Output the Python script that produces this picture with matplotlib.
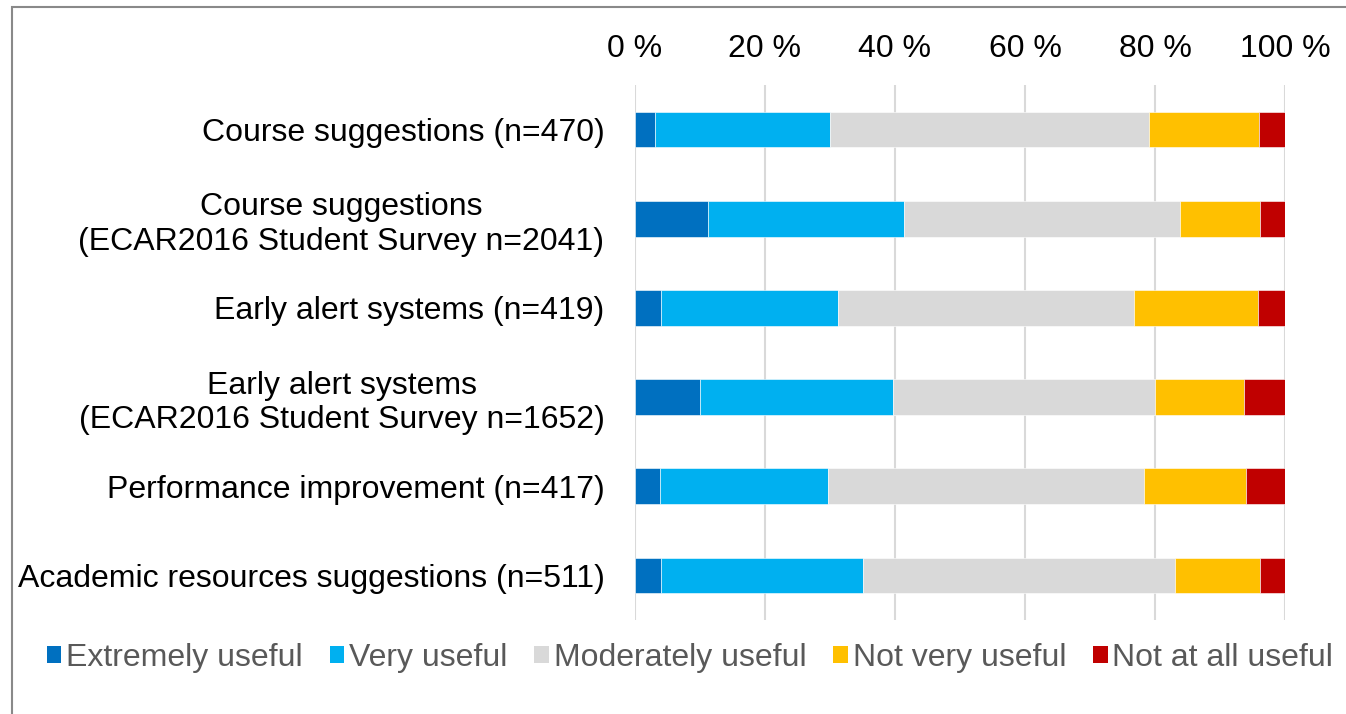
import matplotlib
matplotlib.use("Agg")
import matplotlib.pyplot as plt
from matplotlib.patches import Patch, Rectangle
import numpy as np

plt.rcParams['font.family'] = ['Liberation Sans', 'DejaVu Sans']

# categories, top to bottom
categories = [
    "Course suggestions (n=470)",
    "Course suggestions\n(ECAR2016 Student Survey n=2041)",
    "Early alert systems (n=419)",
    "Early alert systems\n(ECAR2016 Student Survey n=1652)",
    "Performance improvement (n=417)",
    "Academic resources suggestions (n=511)",
]

# percentages per answer
extremely = [3.0, 11.3, 4.0, 10.0, 3.9, 4.0]
very = [27.0, 30.1, 27.2, 29.7, 25.8, 31.0]
moderately = [49.0, 42.5, 45.6, 40.3, 48.6, 48.1]
not_very = [17.0, 12.3, 19.1, 13.7, 15.7, 13.0]
not_at_all = [4.0, 3.8, 4.1, 6.3, 6.0, 3.9]

series_names = ["Extremely useful", "Very useful", "Moderately useful",
                "Not very useful", "Not at all useful"]
series = [extremely, very, moderately, not_very, not_at_all]
colors = ["#0070C0", "#00B0F0", "#D9D9D9", "#FFC000", "#C00000"]

xticks = [0, 20, 40, 60, 80, 100]
xticklabels = ["0 %", "20 %", "40 %", "60 %", "80 %", "100 %"]

fs = 23

fig = plt.figure(figsize=(13.46, 7.14), dpi=100)
ax = fig.add_axes([635 / 1346, 1 - 620 / 714, 650 / 1346, 535 / 714])

y = np.arange(len(categories))
left = np.zeros(len(categories))
for vals, col in zip(series, colors):
    ax.barh(y, vals, left=left, height=0.4, color=col, edgecolor="white",
            linewidth=0.4, zorder=3)
    left += np.array(vals)

ax.set_xlim(0, 100)
ax.set_ylim(len(categories) - 0.5, -0.5)
ax.set_yticks(y)
ax.set_yticklabels(categories, fontsize=fs, ha="right", multialignment="center")
ax.set_xticks(xticks)
ax.set_xticklabels(xticklabels, fontsize=fs)
ax.xaxis.tick_top()
ax.tick_params(axis="x", length=0, pad=15)
ax.tick_params(axis="y", length=0, pad=22)
ax.grid(axis="x", color="#D9D9D9", linewidth=1.5, zorder=0)
for s in ax.spines.values():
    s.set_visible(False)

handles = [Patch(facecolor=c, edgecolor="none") for c in colors]
leg = fig.legend(handles, series_names, loc="center", ncol=5,
                 bbox_to_anchor=(690 / 1346, 1 - 658 / 714), frameon=False,
                 fontsize=fs, handlelength=0.45, handleheight=0.45,
                 handletextpad=0.15, columnspacing=0.85, labelcolor="#595959")

# chart border
fig.patches.append(Rectangle((12 / 1346, -0.05), 1.2, (714 - 7) / 714 + 0.05,
                             transform=fig.transFigure, fill=False,
                             edgecolor="#898989", linewidth=1.5))

fig.savefig("out.png", dpi=100)
